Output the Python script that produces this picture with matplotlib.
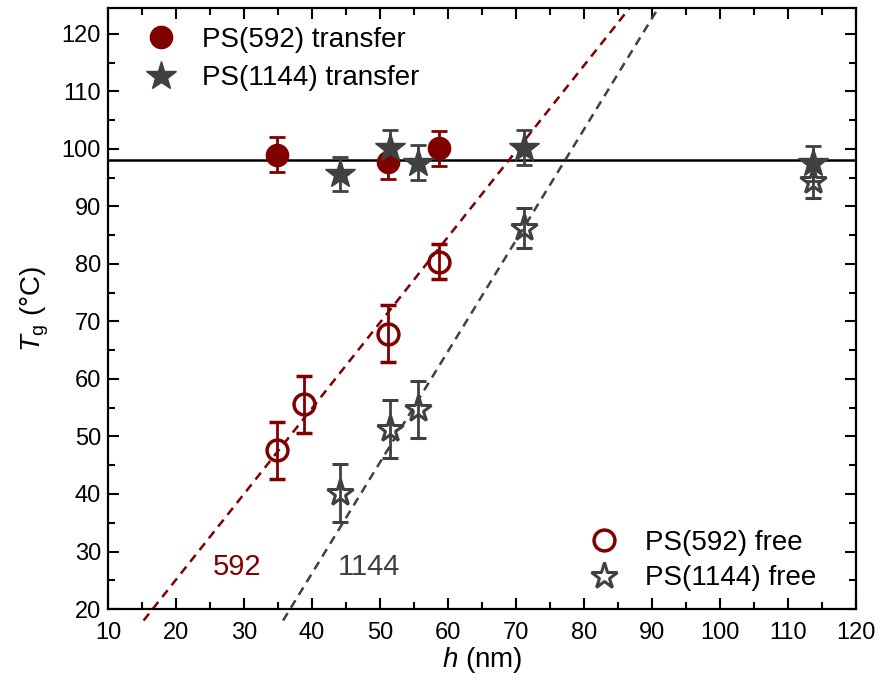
import matplotlib
matplotlib.use("Agg")
import matplotlib.pyplot as plt
from matplotlib.lines import Line2D
from matplotlib.ticker import MultipleLocator
import numpy as np

plt.rcParams['font.family'] = ['Liberation Sans', 'DejaVu Sans']
plt.rcParams['mathtext.fontset'] = 'custom'
plt.rcParams['mathtext.rm'] = 'Liberation Sans'
plt.rcParams['mathtext.it'] = 'Liberation Sans:italic'

############# data #########################################
# PS(592) transferred films (filled circles)
h592_tr = [34.9, 51.2, 58.7]
tg592_tr = [99.0, 97.7, 100.1]
err592_tr = [3.0, 3.0, 3.0]

# PS(1144) transferred films (filled stars)
h1144_tr = [44.1, 51.5, 55.6, 71.2, 113.7]
tg1144_tr = [95.6, 100.2, 97.6, 100.2, 97.5]
err1144_tr = [3.0, 3.0, 3.0, 3.0, 3.0]

# PS(592) free-standing films (open circles)
h592_fr = [34.9, 38.8, 51.2, 58.7]
tg592_fr = [47.6, 55.6, 67.9, 80.4]
err592_fr = [5.0, 5.0, 5.0, 3.0]

# PS(1144) free-standing films (open stars)
h1144_fr = [44.1, 51.5, 55.6, 71.2, 113.7]
tg1144_fr = [40.2, 51.3, 54.7, 86.3, 94.5]
err1144_fr = [5.0, 5.0, 5.0, 3.5, 3.0]

# bulk Tg and linear fits (slope, intercept)
tg_bulk = 98.0
fit592 = (1.49, -4.7)
fit1144 = (1.93, -51.0)

red = '#800000'
grey = '#404040'

fig = plt.figure(figsize=(8.8, 6.88), dpi=100)
ax = fig.add_axes([0.1227, 0.1148, 0.85, 0.8736])

ax.axhline(tg_bulk, color='black', lw=1.8, zorder=1)

### dashed fits, run a bit past the bottom axis ###
for (m, b), col in [(fit592, red), (fit1144, grey)]:
    y = np.array([18.0, 124.5])
    x = (y - b) / m
    ax.plot(x, y, ls=(0, (3.5, 2.5)), color=col, lw=1.8, clip_on=False, zorder=2)

### free films ###
ax.errorbar(h592_fr, tg592_fr, yerr=err592_fr, fmt='o', ms=15, mfc='none',
            mec=red, mew=2.5, ecolor=red, elinewidth=2, capsize=6, capthick=2, zorder=3)
ax.errorbar(h1144_fr, tg1144_fr, yerr=err1144_fr, fmt='*', ms=20, mfc='none',
            mec=grey, mew=2.2, ecolor=grey, elinewidth=2, capsize=6, capthick=2, zorder=3)

### transfer films ###
ax.errorbar(h592_tr, tg592_tr, yerr=err592_tr, fmt='o', ms=16, color=red,
            ecolor=red, elinewidth=2, capsize=6, capthick=2, zorder=4)
ax.errorbar(h1144_tr, tg1144_tr, yerr=err1144_tr, fmt='*', ms=22, color=grey,
            ecolor=grey, elinewidth=2, capsize=6, capthick=2, zorder=4)

ax.text(29, 27.3, '592', color=red, fontsize=21, ha='center', va='center')
ax.text(48.4, 27.3, '1144', color=grey, fontsize=21, ha='center', va='center')

ax.set_xlim(10, 120)
ax.set_ylim(20, 124.5)
ax.xaxis.set_major_locator(MultipleLocator(10))
ax.xaxis.set_minor_locator(MultipleLocator(5))
ax.yaxis.set_major_locator(MultipleLocator(10))
ax.yaxis.set_minor_locator(MultipleLocator(5))
ax.tick_params(which='both', direction='in', top=True, right=True, width=1.5,
               labelsize=17)
ax.tick_params(which='major', length=8)
ax.tick_params(which='minor', length=5)
ax.tick_params(axis='x', which='major', pad=9)
ax.tick_params(axis='y', which='major', pad=5)
for s in ax.spines.values():
    s.set_linewidth(1.6)

ax.set_xlabel('$h$ (nm)', fontsize=20, labelpad=1)
ax.set_ylabel('$T_\\mathrm{g}$ (°C)', fontsize=20, labelpad=8)

h1 = [Line2D([], [], ls='none', marker='o', ms=16, color=red),
      Line2D([], [], ls='none', marker='*', ms=22, color=grey)]
leg1 = ax.legend(h1, ['PS(592) transfer', 'PS(1144) transfer'], loc='upper left',
                 bbox_to_anchor=(0.015, 1.01), frameon=False, fontsize=20,
                 handletextpad=0.87, handlelength=1.2, labelspacing=0.45)
ax.add_artist(leg1)
h2 = [Line2D([], [], ls='none', marker='o', ms=15, mfc='none', mec=red, mew=2.5),
      Line2D([], [], ls='none', marker='*', ms=20, mfc='none', mec=grey, mew=2.2)]
ax.legend(h2, ['PS(592) free', 'PS(1144) free'], loc='lower right',
          bbox_to_anchor=(0.98, -0.012), frameon=False, fontsize=20,
          handletextpad=0.87, handlelength=1.2, labelspacing=0.35)

fig.savefig('out.png', dpi=100)
